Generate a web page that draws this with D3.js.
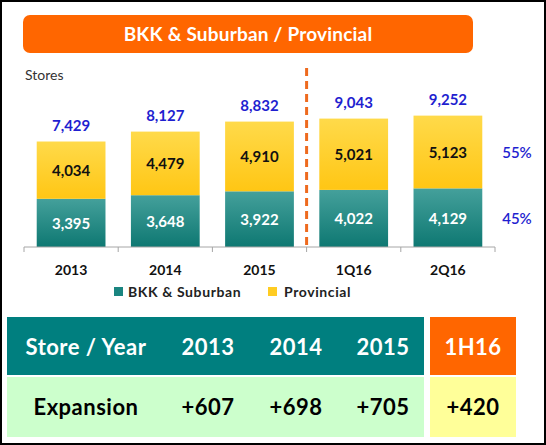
<!DOCTYPE html>
<html>
<head>
<meta charset="utf-8">
<script src="https://cdn.jsdelivr.net/npm/d3@7"></script>
<style>
  html, body { margin: 0; padding: 0; background: #fff; }
  svg { display: block; font-family: Lato, "DejaVu Sans", sans-serif; }
</style>
</head>
<body>
<div id="chart"></div>
<script>
// chart data
const periods = ["2013", "2014", "2015", "1Q16", "2Q16"];
const bkkSuburban = [3395, 3648, 3922, 4022, 4129];
const provincial = [4034, 4479, 4910, 5021, 5123];
const totals = [7429, 8127, 8832, 9043, 9252];
const shareLabels = ["55%", "45%"];

// expansion table
const tableYears = ["2013", "2014", "2015"];
const tableExpansion = ["+607", "+698", "+705"];
const halfLabel = "1H16";
const halfExpansion = "+420";

const W = 546, H = 445;
const axisY = 247;

const svg = d3.select("#chart").append("svg")
    .attr("width", W)
    .attr("height", H);

const defs = svg.append("defs");
const gTeal = defs.append("linearGradient").attr("id", "gTeal").attr("x1", 0).attr("y1", 0).attr("x2", 0).attr("y2", 1);
gTeal.append("stop").attr("offset", "0%").attr("stop-color", "#44a09b");
gTeal.append("stop").attr("offset", "100%").attr("stop-color", "#0e7872");
const gYellow = defs.append("linearGradient").attr("id", "gYellow").attr("x1", 0).attr("y1", 0).attr("x2", 0).attr("y2", 1);
gYellow.append("stop").attr("offset", "0%").attr("stop-color", "#ffda4a");
gYellow.append("stop").attr("offset", "100%").attr("stop-color", "#ffc614");

svg.append("rect")
    .attr("x", 1).attr("y", 1)
    .attr("width", W - 2).attr("height", H - 2)
    .attr("fill", "#fff")
    .attr("stroke", "#000")
    .attr("stroke-width", 2);

// title banner
svg.append("rect")
    .attr("x", 23).attr("y", 15)
    .attr("width", 450).attr("height", 38)
    .attr("rx", 7)
    .attr("fill", "#ff6600");
svg.append("text")
    .attr("x", 248).attr("y", 40.5)
    .attr("text-anchor", "middle")
    .attr("fill", "#fff")
    .attr("font-weight", "bold")
    .attr("font-size", 19)
    .attr("letter-spacing", 0.2)
    .text("BKK & Suburban / Provincial");

svg.append("text")
    .attr("x", 25).attr("y", 80)
    .attr("fill", "#333")
    .attr("font-size", 14)
    .text("Stores");

const xScale = d3.scaleBand()
    .domain(periods)
    .range([24, 495])
    .paddingInner(0.27)
    .paddingOuter(0.135);

const yScale = d3.scaleLinear()
    .domain([0, 10000])
    .range([axisY, axisY - 142]);

const rows = periods.map((p, i) => ({ p, bkk: bkkSuburban[i], prov: provincial[i], total: totals[i] }));

const bars = svg.append("g").selectAll("g")
    .data(rows)
    .enter()
    .append("g");

bars.append("rect")
    .attr("x", d => xScale(d.p))
    .attr("y", d => yScale(d.bkk))
    .attr("width", xScale.bandwidth())
    .attr("height", d => yScale(0) - yScale(d.bkk))
    .attr("fill", "url(#gTeal)");

bars.append("rect")
    .attr("x", d => xScale(d.p))
    .attr("y", d => yScale(d.bkk + d.prov))
    .attr("width", xScale.bandwidth())
    .attr("height", d => yScale(d.bkk) - yScale(d.bkk + d.prov))
    .attr("fill", "url(#gYellow)");

const fmt = d3.format(",");
const cx = d => xScale(d.p) + xScale.bandwidth() / 2;

bars.append("text")
    .attr("x", cx)
    .attr("y", d => (yScale(0) + yScale(d.bkk)) / 2 + 6)
    .attr("text-anchor", "middle")
    .attr("fill", "#fff")
    .attr("font-weight", "bold")
    .attr("font-size", 15)
    .text(d => fmt(d.bkk));

bars.append("text")
    .attr("x", cx)
    .attr("y", d => (yScale(d.bkk) + yScale(d.bkk + d.prov)) / 2 + 6)
    .attr("text-anchor", "middle")
    .attr("fill", "#111")
    .attr("font-weight", "bold")
    .attr("font-size", 15)
    .text(d => fmt(d.prov));

bars.append("text")
    .attr("x", cx)
    .attr("y", d => yScale(d.total) - 11)
    .attr("text-anchor", "middle")
    .attr("fill", "#1f1fd0")
    .attr("font-weight", "bold")
    .attr("font-size", 15)
    .text(d => fmt(d.total));

// x axis with ticks between categories
const axisG = svg.append("g");
axisG.append("line")
    .attr("x1", 24).attr("x2", 495)
    .attr("y1", axisY).attr("y2", axisY)
    .attr("stroke", "#a6a6a6");
const edges = d3.range(periods.length + 1).map(i => 24 + i * xScale.step());
axisG.selectAll(".tk")
    .data(edges)
    .enter()
    .append("line")
    .attr("x1", d => d).attr("x2", d => d)
    .attr("y1", axisY).attr("y2", axisY + 5)
    .attr("stroke", "#a6a6a6");

svg.append("g").selectAll("text")
    .data(periods)
    .enter()
    .append("text")
    .attr("x", d => xScale(d) + xScale.bandwidth() / 2)
    .attr("y", 275)
    .attr("text-anchor", "middle")
    .attr("fill", "#111")
    .attr("font-weight", "bold")
    .attr("font-size", 14)
    .text(d => d);

// divider between years and quarters
svg.append("line")
    .attr("x1", edges[3]).attr("x2", edges[3])
    .attr("y1", 68).attr("y2", axisY)
    .attr("stroke", "#ee6a1e")
    .attr("stroke-width", 3)
    .attr("stroke-dasharray", "8,5");

// share labels on the right
const last = rows[rows.length - 1];
svg.append("text")
    .attr("x", 517).attr("y", (yScale(last.bkk) + yScale(last.total)) / 2 + 6)
    .attr("text-anchor", "middle")
    .attr("fill", "#1f1fd0")
    .attr("font-weight", 600)
    .attr("font-size", 15)
    .text(shareLabels[0]);
svg.append("text")
    .attr("x", 517).attr("y", (yScale(0) + yScale(last.bkk)) / 2 + 6)
    .attr("text-anchor", "middle")
    .attr("fill", "#1f1fd0")
    .attr("font-weight", 600)
    .attr("font-size", 15)
    .text(shareLabels[1]);

// legend
const legend = svg.append("g");
legend.append("rect").attr("x", 114).attr("y", 287).attr("width", 9).attr("height", 9).attr("fill", "#1a8580");
legend.append("text").attr("x", 128).attr("y", 297).attr("font-size", 14).attr("font-weight", "bold").attr("letter-spacing", 0.6).attr("fill", "#222").text("BKK & Suburban");
legend.append("rect").attr("x", 268).attr("y", 287).attr("width", 9).attr("height", 9).attr("fill", "#ffcc22");
legend.append("text").attr("x", 284).attr("y", 297).attr("font-size", 14).attr("font-weight", "bold").attr("letter-spacing", 0.6).attr("fill", "#222").text("Provincial");

// expansion table
const tbl = svg.append("g");
tbl.append("rect").attr("x", 7).attr("y", 317).attr("width", 417).attr("height", 58).attr("fill", "#007f7f");
tbl.append("rect").attr("x", 7).attr("y", 377).attr("width", 417).attr("height", 60).attr("fill", "#ccffcc");
tbl.append("rect").attr("x", 430).attr("y", 317).attr("width", 86).attr("height", 58).attr("fill", "#ff6600");
tbl.append("rect").attr("x", 430).attr("y", 377).attr("width", 86).attr("height", 60).attr("fill", "#ffff99");

const headCells = ["Store / Year"].concat(tableYears).concat([halfLabel]);
const bodyCells = ["Expansion"].concat(tableExpansion).concat([halfExpansion]);
const cellX = [86, 208, 296, 383, 473];

tbl.selectAll(".hd")
    .data(headCells)
    .enter()
    .append("text")
    .attr("x", (d, i) => cellX[i])
    .attr("y", 355)
    .attr("text-anchor", "middle")
    .attr("fill", "#fff")
    .attr("font-weight", "bold")
    .attr("font-size", 22)
    .attr("letter-spacing", 0.5)
    .text(d => d);

tbl.selectAll(".bd")
    .data(bodyCells)
    .enter()
    .append("text")
    .attr("x", (d, i) => cellX[i])
    .attr("y", 415)
    .attr("text-anchor", "middle")
    .attr("fill", "#000")
    .attr("font-weight", "bold")
    .attr("font-size", 22)
    .attr("letter-spacing", 0.5)
    .text(d => d);
</script>
</body>
</html>
